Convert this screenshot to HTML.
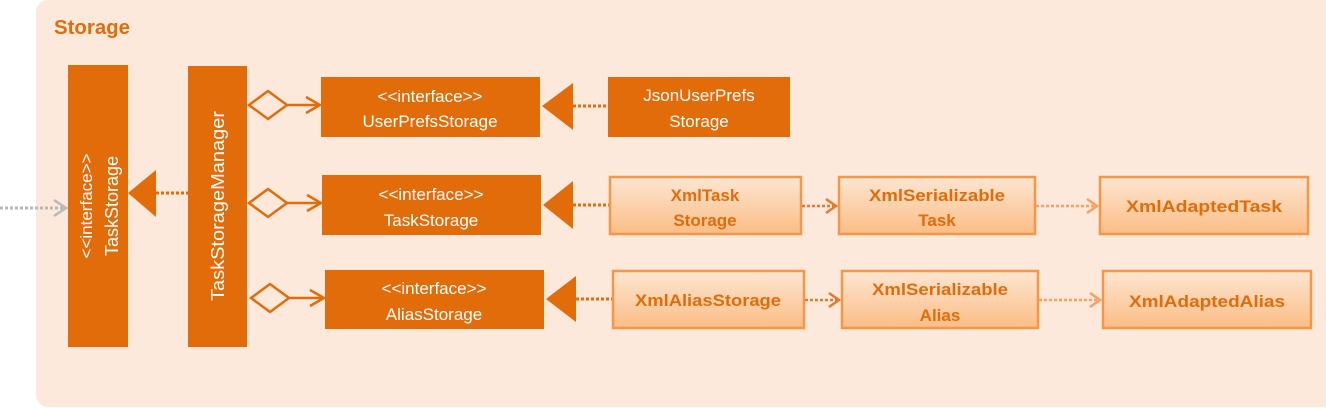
<!DOCTYPE html>
<html><head><meta charset="utf-8"><style>
html,body{margin:0;padding:0;background:#fff;}
svg{display:block;}
text{font-family:"Liberation Sans",sans-serif;}
</style></head><body>
<svg width="1326" height="408" viewBox="0 0 1326 408" xmlns="http://www.w3.org/2000/svg">
<defs>
<linearGradient id="g" x1="0" y1="0" x2="0" y2="1">
<stop offset="0" stop-color="#fde6d2"/><stop offset="1" stop-color="#fbbd86"/>
</linearGradient>
</defs>
<rect x="36" y="0" width="1300" height="407" rx="12" fill="#fde9db"/>
<text x="54" y="34" font-size="20" font-weight="bold" fill="#e36c0a" textLength="76" lengthAdjust="spacingAndGlyphs">Storage</text>

<line x1="0" y1="208" x2="64" y2="208" stroke="#b8b8b8" stroke-width="3" stroke-dasharray="3,2"/>
<polyline points="54,200 66,208 54,216" fill="none" stroke="#b8b8b8" stroke-width="2.5"/>

<rect x="68" y="65" width="60" height="282" fill="#e36c0a"/>
<text transform="translate(92,206) rotate(-90)" text-anchor="middle" font-size="17" fill="#fff">&lt;&lt;interface&gt;&gt;</text>
<text transform="translate(118,206) rotate(-90)" text-anchor="middle" font-size="18" fill="#fff">TaskStorage</text>
<polygon points="128,193 156,170 156,217" fill="#e36c0a"/>
<line x1="156" y1="193" x2="188" y2="193" stroke="#e36c0a" stroke-width="3" stroke-dasharray="3,2"/>

<rect x="188" y="66" width="59" height="281" fill="#e36c0a"/>
<text transform="translate(224,206) rotate(-90)" text-anchor="middle" font-size="18" fill="#fff" textLength="190" lengthAdjust="spacingAndGlyphs">TaskStorageManager</text>

<g fill="none" stroke="#e36c0a" stroke-width="2.5">
<polygon points="249,105 268,91 287,105 268,119"/>
<line x1="287" y1="105" x2="319" y2="105"/>
<polyline points="306,97 320,105 306,113"/>
<polygon points="249,203 268,189 287,203 268,217"/>
<line x1="287" y1="203" x2="320" y2="203"/>
<polyline points="307,195 321,203 307,211"/>
<polygon points="251,298 270,284 289,298 270,312"/>
<line x1="289" y1="298" x2="323" y2="298"/>
<polyline points="310,290 324,298 310,306"/>
</g>

<g font-size="17" fill="#fff" text-anchor="middle">
<rect x="321" y="77" width="219" height="60" fill="#e36c0a"/>
<text x="430" y="102">&lt;&lt;interface&gt;&gt;</text>
<text x="430" y="127">UserPrefsStorage</text>
<rect x="322" y="175" width="219" height="60" fill="#e36c0a"/>
<text x="431" y="200">&lt;&lt;interface&gt;&gt;</text>
<text x="431" y="226">TaskStorage</text>
<rect x="325" y="270" width="219" height="59" fill="#e36c0a"/>
<text x="434" y="294">&lt;&lt;interface&gt;&gt;</text>
<text x="434" y="320">AliasStorage</text>
</g>

<polygon points="542,106 573,83 573,130" fill="#e36c0a"/>
<line x1="573" y1="106" x2="608" y2="106" stroke="#e36c0a" stroke-width="3" stroke-dasharray="3,2"/>
<polygon points="543,205 573,181 573,229" fill="#e36c0a"/>
<line x1="573" y1="205" x2="609" y2="205" stroke="#e36c0a" stroke-width="3" stroke-dasharray="3,2"/>
<polygon points="546,299 576,276 576,322" fill="#e36c0a"/>
<line x1="576" y1="299" x2="612" y2="299" stroke="#e36c0a" stroke-width="3" stroke-dasharray="3,2"/>

<rect x="608" y="77" width="182" height="60" fill="#e36c0a"/>
<text x="699" y="101" text-anchor="middle" font-size="17" fill="#fff">JsonUserPrefs</text>
<text x="699" y="127" text-anchor="middle" font-size="17" fill="#fff">Storage</text>

<g fill="url(#g)" stroke="#f79646" stroke-width="2.5">
<rect x="610" y="177" width="191" height="57"/>
<rect x="839" y="177" width="196" height="57"/>
<rect x="1100" y="177" width="208" height="57"/>
<rect x="613" y="271" width="191" height="57"/>
<rect x="842" y="271" width="196" height="57"/>
<rect x="1103" y="271" width="208" height="57"/>
</g>
<g font-size="17" font-weight="bold" fill="#e36c0a" text-anchor="middle">
<text x="705" y="201">XmlTask</text>
<text x="705" y="226">Storage</text>
<text x="937" y="201" textLength="136" lengthAdjust="spacingAndGlyphs">XmlSerializable</text>
<text x="937" y="226">Task</text>
<text x="1204" y="212" textLength="156" lengthAdjust="spacingAndGlyphs">XmlAdaptedTask</text>
<text x="708" y="306" textLength="146" lengthAdjust="spacingAndGlyphs">XmlAliasStorage</text>
<text x="940" y="295" textLength="136" lengthAdjust="spacingAndGlyphs">XmlSerializable</text>
<text x="940" y="321">Alias</text>
<text x="1207" y="307" textLength="156" lengthAdjust="spacingAndGlyphs">XmlAdaptedAlias</text>
</g>

<g fill="none" stroke-width="2.5">
<line x1="802" y1="206" x2="836" y2="206" stroke="#e8782a" stroke-dasharray="3,2"/>
<polyline points="826,199 836,206 826,213" stroke="#e8782a"/>
<line x1="1036" y1="206" x2="1097" y2="206" stroke="#f7a060" stroke-dasharray="3,2"/>
<polyline points="1087,199 1097,206 1087,213" stroke="#f7a060"/>
<line x1="805" y1="300" x2="839" y2="300" stroke="#e8782a" stroke-dasharray="3,2"/>
<polyline points="829,293 839,300 829,307" stroke="#e8782a"/>
<line x1="1039" y1="300" x2="1100" y2="300" stroke="#f7a060" stroke-dasharray="3,2"/>
<polyline points="1090,293 1100,300 1090,307" stroke="#f7a060"/>
</g>
</svg>
</body></html>
